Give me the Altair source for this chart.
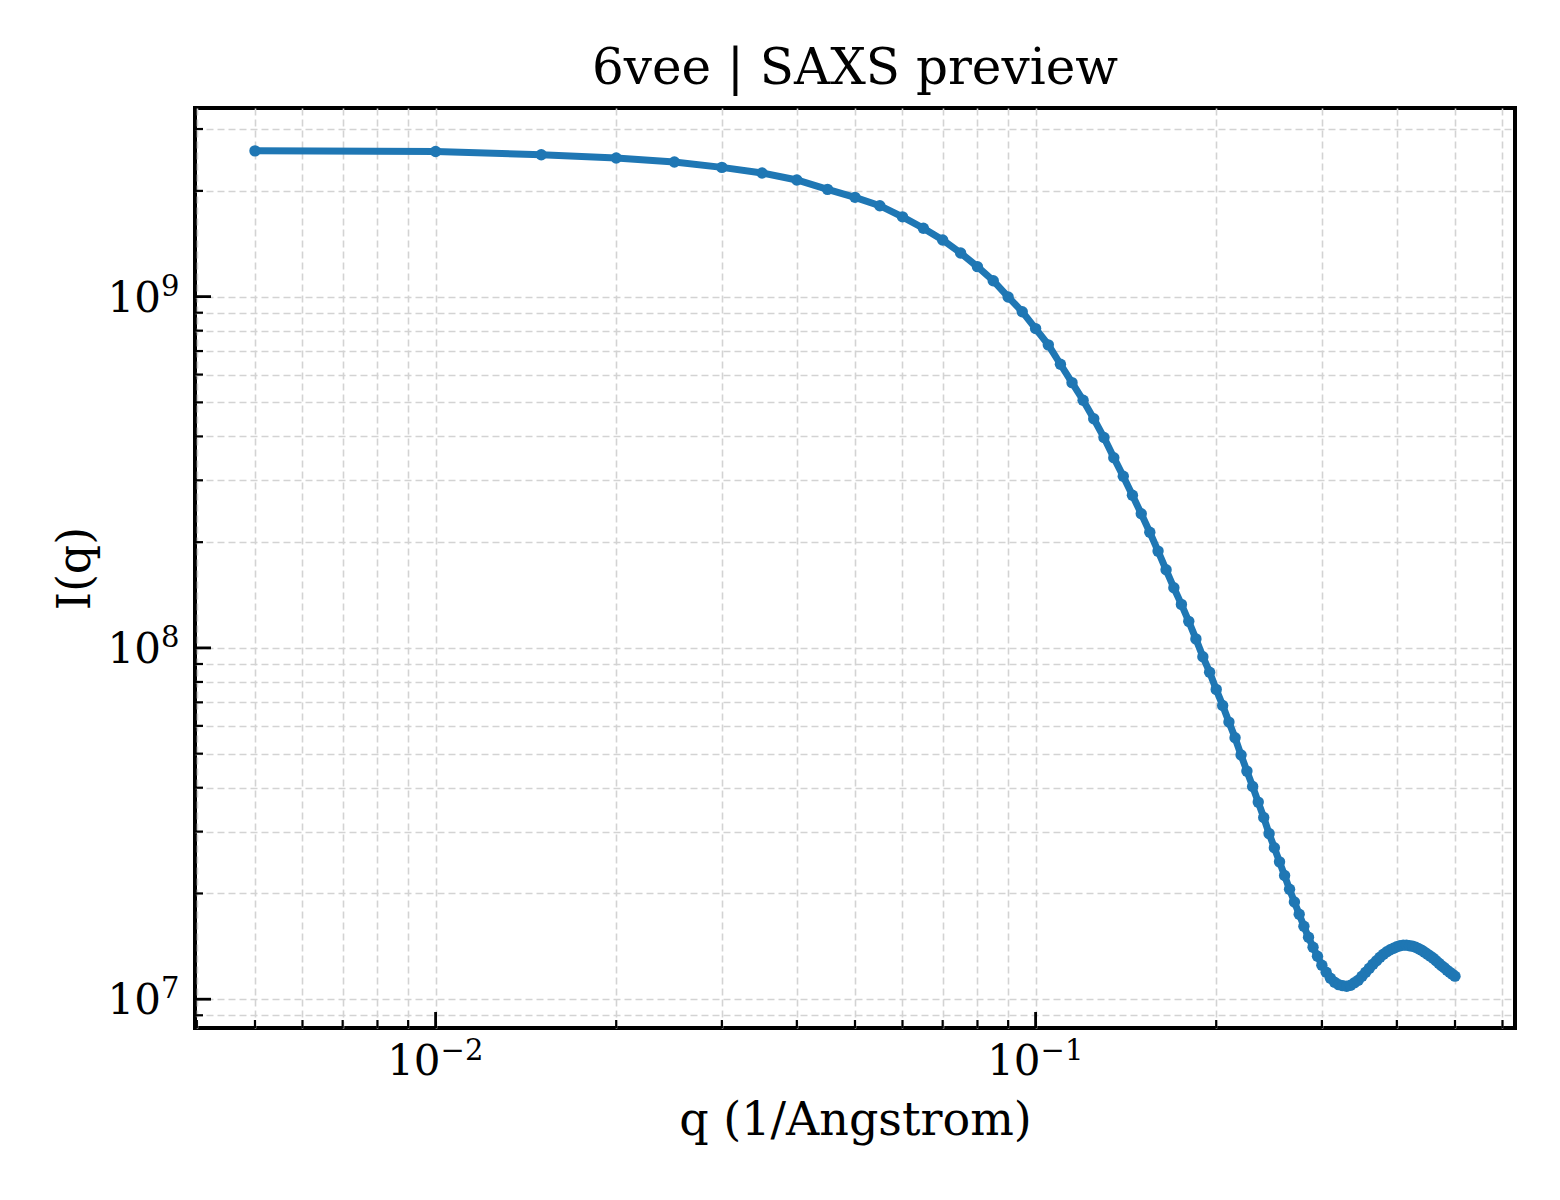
import pandas as pd
import altair as alt

q = [
    0.005, 0.010, 0.015, 0.020, 0.025, 0.030, 0.035, 0.040, 0.045, 0.050,
    0.055, 0.060, 0.065, 0.070, 0.075, 0.080, 0.085, 0.090, 0.095, 0.100,
    0.105, 0.110, 0.115, 0.120, 0.125, 0.130, 0.135, 0.140, 0.145, 0.150,
    0.155, 0.160, 0.165, 0.170, 0.175, 0.180, 0.185, 0.190, 0.195, 0.200,
    0.205, 0.210, 0.215, 0.220, 0.225, 0.230, 0.235, 0.240, 0.245, 0.250,
    0.255, 0.260, 0.265, 0.270, 0.275, 0.280, 0.285, 0.290, 0.295, 0.300,
    0.305, 0.310, 0.315, 0.320, 0.325, 0.330, 0.335, 0.340, 0.345, 0.350,
    0.355, 0.360, 0.365, 0.370, 0.375, 0.380, 0.385, 0.390, 0.395, 0.400,
    0.405, 0.410, 0.415, 0.420, 0.425, 0.430, 0.435, 0.440, 0.445, 0.450,
    0.455, 0.460, 0.465, 0.470, 0.475, 0.480, 0.485, 0.490, 0.495, 0.500,
]
intensity = [
    2.60e9, 2.59e9, 2.535e9, 2.48e9, 2.417e9, 2.333e9, 2.249e9, 2.148e9, 2.02e9, 1.917e9,
    1.815e9, 1.687e9, 1.566e9, 1.45e9, 1.331e9, 1.217e9, 1.11e9, 9.98e8, 9.06e8, 8.11e8,
    7.29e8, 6.42e8, 5.69e8, 5.07e8, 4.49e8, 3.97e8, 3.48e8, 3.08e8, 2.72e8, 2.41e8,
    2.135e8, 1.886e8, 1.669e8, 1.483e8, 1.33e8, 1.19e8, 1.061e8, 9.44e7, 8.53e7, 7.62e7,
    6.86e7, 6.15e7, 5.55e7, 4.955e7, 4.46e7, 4.03e7, 3.64e7, 3.29e7, 2.96e7, 2.70e7,
    2.46e7, 2.25e7, 2.055e7, 1.892e7, 1.745e7, 1.613e7, 1.501e7, 1.406e7, 1.326e7, 1.25e7,
    1.193e7, 1.147e7, 1.118e7, 1.10e7, 1.093e7, 1.089e7, 1.096e7, 1.114e7, 1.132e7, 1.163e7,
    1.193e7, 1.225e7, 1.258e7, 1.287e7, 1.317e7, 1.343e7, 1.365e7, 1.383e7, 1.397e7, 1.411e7,
    1.42e7, 1.425e7, 1.425e7, 1.42e7, 1.415e7, 1.406e7, 1.392e7, 1.378e7, 1.36e7, 1.343e7,
    1.326e7, 1.308e7, 1.287e7, 1.266e7, 1.245e7, 1.229e7, 1.209e7, 1.193e7, 1.178e7, 1.163e7,
]

# tick positions and labels
x_major = [0.01, 0.1]
x_major_exp = ["\u22122", "\u22121"]
x_minor = [0.004, 0.005, 0.006, 0.007, 0.008, 0.009,
           0.02, 0.03, 0.04, 0.05, 0.06, 0.07, 0.08, 0.09,
           0.2, 0.3, 0.4, 0.5, 0.6]
y_major = [1e7, 1e8, 1e9]
y_major_exp = ["7", "8", "9"]
y_minor = [9e6, 2e7, 3e7, 4e7, 5e7, 6e7, 7e7, 8e7, 9e7,
           2e8, 3e8, 4e8, 5e8, 6e8, 7e8, 8e8, 9e8, 2e9, 3e9]

W, H = 1320, 920
FONT = "DejaVu Serif"

df = pd.DataFrame({"q": q, "I": intensity})
xmaj = pd.DataFrame({"q": x_major, "exp": x_major_exp, "base": ["10"] * len(x_major)})
ymaj = pd.DataFrame({"I": y_major, "exp": y_major_exp, "base": ["10"] * len(y_major)})
xmin = pd.DataFrame({"q": x_minor})
ymin = pd.DataFrame({"I": y_minor})

xs = alt.Scale(type="log", domain=[0.003972, 0.6295], nice=False, zero=False)
ys = alt.Scale(type="log", domain=[8.28e6, 3.443e9], nice=False, zero=False)

grid_axis = dict(grid=True, ticks=False, labels=False, domain=False,
                 gridColor="#d3d3d3", gridWidth=1.6, gridDash=[7, 4],
                 titleFont=FONT, titleFontSize=46, titleFontWeight="normal",
                 titleColor="black", titleBaseline="alphabetic", titlePadding=106)
x_axis = alt.Axis(values=x_major + x_minor, title="q (1/Angstrom)", **grid_axis)
y_axis = alt.Axis(values=y_major + y_minor, title="I(q)", **grid_axis)

X = alt.X("q:Q", scale=xs, axis=x_axis)
Y = alt.Y("I:Q", scale=ys, axis=y_axis)

line = alt.Chart(df).mark_line(color="#1f77b4", strokeWidth=7).encode(x=X, y=Y)
pts = alt.Chart(df).mark_circle(color="#1f77b4", size=130, opacity=1).encode(x=X, y=Y)

# inward ticks, bottom and left
xt_maj = alt.Chart(xmaj).mark_rule(color="black", strokeWidth=2.8).encode(
    x=X, y=alt.value(H), y2=alt.value(H - 16))
xt_min = alt.Chart(xmin).mark_rule(color="black", strokeWidth=2.2).encode(
    x=X, y=alt.value(H), y2=alt.value(H - 8))
yt_maj = alt.Chart(ymaj).mark_rule(color="black", strokeWidth=2.8).encode(
    y=Y, x=alt.value(0), x2=alt.value(16))
yt_min = alt.Chart(ymin).mark_rule(color="black", strokeWidth=2.2).encode(
    y=Y, x=alt.value(0), x2=alt.value(8))

# tick labels: 10 with superscript exponent
xl_base = alt.Chart(xmaj).mark_text(font=FONT, fontSize=42, align="right",
                                    baseline="alphabetic", dx=5, color="black").encode(
    x=X, y=alt.value(H + 47), text="base:N")
xl_exp = alt.Chart(xmaj).mark_text(font=FONT, fontSize=29, align="left",
                                   baseline="alphabetic", dx=5, color="black").encode(
    x=X, y=alt.value(H + 32), text="exp:N")
yl_base = alt.Chart(ymaj).mark_text(font=FONT, fontSize=42, align="right",
                                    baseline="alphabetic", dy=15, color="black").encode(
    y=Y, x=alt.value(-34), text="base:N")
yl_exp = alt.Chart(ymaj).mark_text(font=FONT, fontSize=29, align="left",
                                   baseline="alphabetic", dy=-1, color="black").encode(
    y=Y, x=alt.value(-34), text="exp:N")

title = alt.Chart(pd.DataFrame({"t": ["6vee | SAXS preview"]})).mark_text(
    font=FONT, fontSize=50, align="center", baseline="alphabetic", color="black"
).encode(x=alt.value(W / 2), y=alt.value(-24), text="t:N")

chart = (
    alt.layer(line, pts, xt_maj, xt_min, yt_maj, yt_min,
              xl_base, xl_exp, yl_base, yl_exp, title)
    .properties(
        width=W, height=H,
        autosize=alt.AutoSizeParams(type="none"),
        padding={"left": 187, "top": 100, "right": 37, "bottom": 164},
    )
    .configure_view(stroke="black", strokeWidth=4)
)

chart.save("out.html", embed_options={"renderer": "svg", "actions": False})
